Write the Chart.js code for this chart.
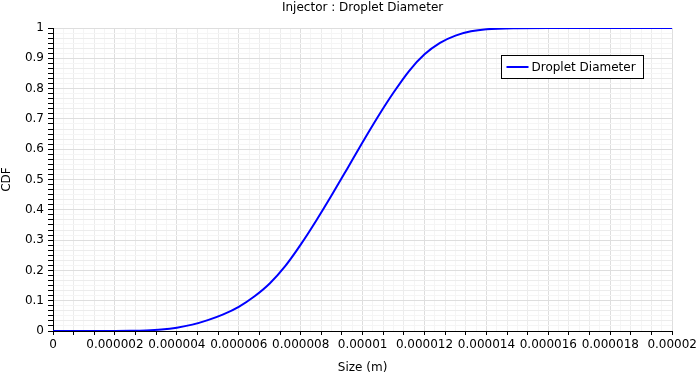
<!DOCTYPE html>
<html>
<head>
<meta charset="utf-8">
<script src="https://cdn.jsdelivr.net/npm/chart.js@4"></script>
<style>
  body { margin: 0; background: #fff; }
  canvas { display: block; }
</style>
</head>
<body>
<canvas id="cdfChart" width="700" height="379"></canvas>
<script>
// Размеры капель (м) и значения CDF
const sizes = [0, 1e-6, 2e-6, 2.5e-6, 3e-6, 3.5e-6, 4e-6, 4.5e-6, 5e-6, 5.5e-6, 6e-6, 6.5e-6,
  7e-6, 7.5e-6, 8e-6, 8.5e-6, 9e-6, 9.5e-6, 10e-6, 10.5e-6, 11e-6, 11.5e-6, 12e-6,
  12.5e-6, 13e-6, 13.5e-6, 14e-6, 15e-6, 16e-6, 17e-6, 18e-6, 19e-6, 20e-6];
const cdfValues = [0, 0, 0.0002, 0.0007, 0.002, 0.005, 0.011, 0.021, 0.036, 0.055, 0.080, 0.114,
  0.157, 0.214, 0.285, 0.364, 0.448, 0.535, 0.623, 0.708, 0.787, 0.858, 0.913,
  0.951, 0.975, 0.989, 0.996, 0.9995, 1, 1, 1, 1, 1];
// Деления осей
const xTickLabels = ['0', '0.000002', '0.000004', '0.000006', '0.000008', '0.00001',
  '0.000012', '0.000014', '0.000016', '0.000018', '0.00002'];
const yTickLabels = ['0', '0.1', '0.2', '0.3', '0.4', '0.5', '0.6', '0.7', '0.8', '0.9', '1'];

const chartTitle = 'Injector : Droplet Diameter';
const seriesName = 'Droplet Diameter';
const xMax = 0.00002;
const yMax = 1;

Chart.defaults.font.family = 'DejaVu Sans';
Chart.defaults.font.size = 12;
Chart.defaults.color = '#000';

// Мелкие деления: 6 на каждый крупный шаг
function buildTicks(max, majorCount) {
    const n = majorCount * 6;
    const ticks = [];
    for (let i = 0; i <= n; i++) {
        ticks.push({ value: max * i / n });
    }
    return ticks;
}

function gridColor(ctx) {
    const i = ctx.index;
    if (i % 6 === 0) return '#dedede';
    if (i % 2 === 0) return '#ececec';
    return '#f5f5f5';
}

// Заголовок по центру области графика и легенда внутри неё
const titleAndLegend = {
    id: 'titleAndLegend',
    afterDatasetsDraw(chart) {
        const c = chart.ctx;
        const area = chart.chartArea;
        c.save();
        c.font = '12px "DejaVu Sans"';
        c.fillStyle = '#000';
        c.textAlign = 'center';
        c.textBaseline = 'middle';
        c.fillText(chartTitle, (area.left + area.right) / 2, 8);

        c.textAlign = 'left';
        const textW = c.measureText(seriesName).width;
        const w = Math.round(textW + 38);
        const h = 23;
        const x = Math.round(area.right - 29 - w) + 0.5;
        const y = Math.round(area.top + 27) + 0.5;
        c.fillStyle = '#fff';
        c.fillRect(x, y, w, h);
        c.strokeStyle = '#000';
        c.lineWidth = 1;
        c.strokeRect(x, y, w, h);
        c.strokeStyle = '#0000ff';
        c.lineWidth = 2;
        c.beginPath();
        c.moveTo(x + 5, y + 11.5);
        c.lineTo(x + 27, y + 11.5);
        c.stroke();
        c.fillStyle = '#000';
        c.fillText(seriesName, x + 30, y + 12);
        c.restore();
    }
};

const ctx = document.getElementById('cdfChart').getContext('2d');
const chart = new Chart(ctx, {
    type: 'line',
    data: {
        datasets: [{
            label: seriesName,
            data: sizes.map((s, i) => ({ x: s, y: cdfValues[i] })),
            borderColor: '#0000ff',
            borderWidth: 2,
            pointRadius: 0,
            fill: false,
            cubicInterpolationMode: 'monotone'
        }]
    },
    options: {
        responsive: false,
        animation: false,
        layout: { padding: { left: 0, right: 27, top: 28, bottom: 0 } },
        plugins: {
            legend: { display: false },
            tooltip: { enabled: false },
            title: { display: false }
        },
        scales: {
            x: {
                type: 'linear',
                min: 0,
                max: xMax,
                afterBuildTicks: scale => { scale.ticks = buildTicks(xMax, xTickLabels.length - 1); },
                afterFit: scale => { scale.height = 48; },
                ticks: {
                    autoSkip: false,
                    maxRotation: 0,
                    padding: 3,
                    callback: (v, i) => (i % 6 === 0 ? xTickLabels[i / 6] : '')
                },
                grid: {
                    color: gridColor,
                    tickColor: c => (c.index % 2 === 0 ? '#000' : 'rgba(0,0,0,0)'),
                    tickLength: 4
                },
                border: { color: '#000', width: 1 },
                title: {
                    display: true,
                    text: 'Size (m)',
                    font: { size: 12 },
                    padding: { top: 4, bottom: 4 }
                }
            },
            y: {
                min: 0,
                max: yMax,
                afterBuildTicks: scale => { scale.ticks = buildTicks(yMax, yTickLabels.length - 1); },
                afterFit: scale => { scale.width = 53; },
                ticks: {
                    autoSkip: false,
                    padding: 4,
                    callback: (v, i) => (i % 6 === 0 ? yTickLabels[i / 6] : '')
                },
                grid: {
                    color: gridColor,
                    tickColor: '#000',
                    tickLength: 5
                },
                border: { color: '#000', width: 1 },
                title: {
                    display: true,
                    text: 'CDF',
                    font: { size: 12 },
                    padding: { top: 0, bottom: 0 }
                }
            }
        }
    },
    plugins: [titleAndLegend]
});
</script>
</body>
</html>
